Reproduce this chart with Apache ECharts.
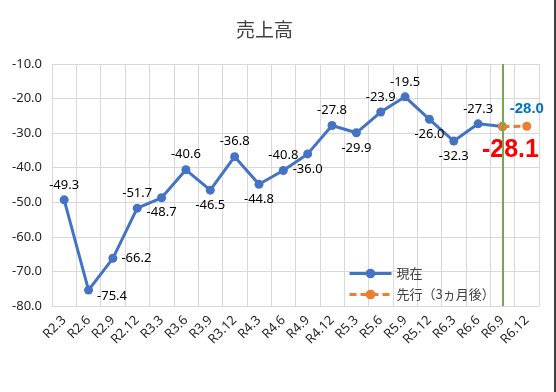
<!DOCTYPE html>
<html><head><meta charset="utf-8">
<script src="https://cdn.jsdelivr.net/npm/echarts@6/dist/echarts.min.js"></script>
<style>html,body{margin:0;padding:0;background:#fff}#c{width:556px;height:392px}</style>
</head><body><div id="c"></div>
<script>
const categories = ['R2.3','R2.6','R2.9','R2.12','R3.3','R3.6','R3.9','R3.12','R4.3','R4.6','R4.9','R4.12','R5.3','R5.6','R5.9','R5.12','R6.3','R6.6','R6.9','R6.12'];
const currentValues = [-49.3,-75.4,-66.2,-51.7,-48.7,-40.6,-46.5,-36.8,-44.8,-40.8,-36.0,-27.8,-29.9,-23.9,-19.5,-26.0,-32.3,-27.3,-28.1];
const leadingValues = [null,null,null,null,null,null,null,null,null,null,null,null,null,null,null,null,null,null,-28.1,-28.0];
const markerCategory = 'R6.9';
const seriesNames = ['現在','先行（3ヵ月後）'];
const titleText = '売上高';

const labelPlacement = ['top','right','right','top','bottom','top','bottom','top','bottom','top','bottom','top','bottom','top','top','bottom','bottom','top','bottom'];

const font = '"Noto Sans", "Noto Sans CJK JP", sans-serif';
const fmt = p => Number(p.value).toFixed(1);
const currentData = currentValues.map((v, i) => {
  const pos = labelPlacement[i];
  const item = { value: v, label: { position: pos } };
  if (i === 1) item.label.offset = [0, 6];
  if (i === currentValues.length - 1) {
    item.label = { position: 'bottom', offset: [8, 3], fontSize: 25, fontWeight: 'bold', color: '#FF0000', fontFamily: 'Liberation Sans, Arial, sans-serif' };
  }
  return item;
});
const leadingData = leadingValues.map((v, i) => {
  if (i === leadingValues.length - 1) {
    return { value: v, label: { show: true, position: 'top', fontSize: 15, fontWeight: 'bold', color: '#0070C0', fontFamily: 'Liberation Sans, Arial, sans-serif', formatter: fmt } };
  }
  return { value: v, label: { show: false } };
});

const chart = echarts.init(document.getElementById('c'), null, { renderer: 'canvas' });
chart.setOption({
  animation: false,
  backgroundColor: '#fff',
  title: { text: titleText, left: 231, top: 15, textStyle: { fontFamily: '"Noto Sans CJK JP", sans-serif', fontSize: 19, fontWeight: 'normal', color: '#404040' } },
  grid: { left: 52, right: 17, top: 64, bottom: 86 },
  legend: {
    orient: 'vertical', left: 343, top: 262, itemWidth: 42, itemHeight: 12, itemGap: 8,
    data: seriesNames,
    lineStyle: { width: 3 },
    textStyle: { fontFamily: '"Noto Sans CJK JP", sans-serif', fontSize: 13, color: '#404040' }
  },
  xAxis: {
    type: 'category', data: categories, boundaryGap: true,
    axisLine: { lineStyle: { color: '#d9d9d9' } },
    axisTick: { show: false },
    splitLine: { show: true, lineStyle: { color: '#d9d9d9' } },
    axisLabel: { rotate: 45, interval: 0, fontSize: 13, color: '#262626', fontFamily: font, margin: 12 }
  },
  yAxis: {
    type: 'value', min: -80, max: -10, interval: 10,
    axisLine: { show: false }, axisTick: { show: false },
    splitLine: { lineStyle: { color: '#d9d9d9' } },
    axisLabel: { formatter: v => v.toFixed(1), fontSize: 13, color: '#262626', fontFamily: font, margin: 10 }
  },
  series: [
    {
      name: seriesNames[0], type: 'line', data: currentData,
      symbol: 'circle', symbolSize: 9,
      lineStyle: { color: '#4472C4', width: 3 }, itemStyle: { color: '#4472C4' },
      label: { show: true, fontSize: 13, color: '#000', fontFamily: font, distance: 4, formatter: fmt },
      markLine: {
        silent: true, symbol: ['none','none'], label: { show: false },
        lineStyle: { color: '#70AD47', width: 2, type: 'solid' },
        data: [{ xAxis: markerCategory }]
      },
      z: 3
    },
    {
      name: seriesNames[1], type: 'line', data: leadingData,
      symbol: 'circle', symbolSize: 9,
      lineStyle: { color: '#ED7D31', width: 3, type: [7, 4] }, itemStyle: { color: '#ED7D31' },
      label: { show: false },
      z: 4
    }
  ],
  graphic: [{ type: 'rect', shape: { x: 554, y: 0, width: 2, height: 392 }, style: { fill: '#404040' }, silent: true }]
});
</script></body></html>
